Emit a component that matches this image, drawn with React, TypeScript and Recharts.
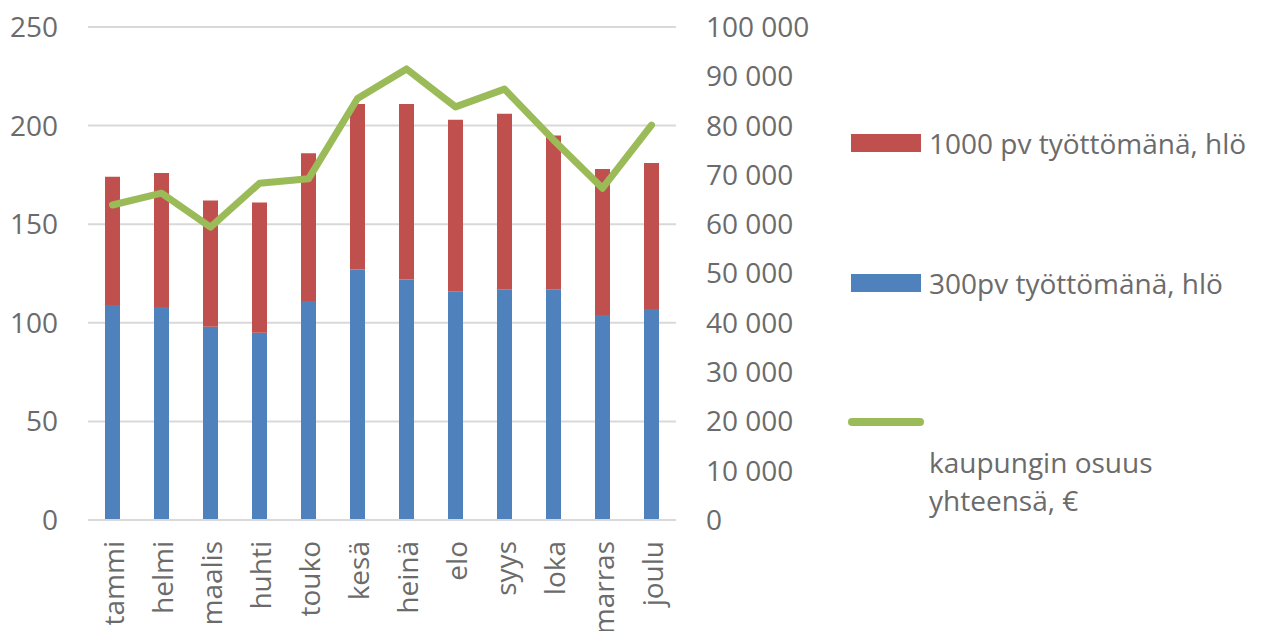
import React from 'react';
import { ComposedChart, Bar, Line, XAxis, YAxis, CartesianGrid, Legend } from 'recharts';

const months = ['tammi', 'helmi', 'maalis', 'huhti', 'touko', 'kesä', 'heinä', 'elo', 'syys', 'loka', 'marras', 'joulu'];
const unemployed300 = [109, 108, 98, 95, 111, 127, 122, 116, 117, 117, 104, 107];
const unemployed1000 = [65, 68, 64, 66, 75, 84, 89, 87, 89, 78, 74, 74];
const cityShare = [63900, 66300, 59400, 68300, 69200, 85500, 91500, 83800, 87400, 77100, 67300, 80100];

const leftTicks = [0, 50, 100, 150, 200, 250];
const rightTicks = [0, 10000, 20000, 30000, 40000, 50000, 60000, 70000, 80000, 90000, 100000];

const NAME_300 = '300pv työttömänä, hlö';
const NAME_1000 = '1000 pv työttömänä, hlö';
const NAME_CITY = 'kaupungin osuus yhteensä, €';

const data = months.map((m, i) => ({
  month: m,
  d300: unemployed300[i],
  d1000: unemployed1000[i],
  city: cityShare[i],
}));

const FONT = '"Open Sans", sans-serif';
const TEXT = '#6b6b6b';
const GRID = '#d9d9d9';

const fmt = (v: number) => {
  const s = String(Math.round(v));
  return s.replace(/\B(?=(\d{3})+(?!\d))/g, ' ');
};

const XTick = (props: any) => {
  const { x, payload } = props;
  const y = 541;
  return (
    <text
      x={x}
      y={y}
      dy={11}
      transform={`rotate(-90, ${x}, ${y})`}
      textAnchor="end"
      fill={TEXT}
      fontSize={28}
      fontFamily={FONT}
    >
      {payload.value}
    </text>
  );
};

const LegendContent = (props: any) => {
  const payload: any[] = props.payload || [];
  const find = (k: string) => payload.find((p) => p.dataKey === k) || { color: '#000', value: '' };
  const red = find('d1000');
  const blue = find('d300');
  const green = find('city');
  const textStyle: React.CSSProperties = {
    position: 'absolute',
    left: 929,
    fontFamily: FONT,
    fontSize: 28,
    color: TEXT,
    whiteSpace: 'nowrap',
    lineHeight: '38px',
  };
  return (
    <div style={{ position: 'relative', width: 0, height: 0 }}>
      <div style={{ position: 'absolute', left: 851, top: 134, width: 70, height: 18, background: red.color }} />
      <div style={{ ...textStyle, top: 124 }}>{red.value}</div>
      <div style={{ position: 'absolute', left: 851, top: 274, width: 70, height: 18, background: blue.color }} />
      <div style={{ ...textStyle, top: 264 }}>{blue.value}</div>
      <div style={{ position: 'absolute', left: 848, top: 418, width: 76, height: 8, borderRadius: 4, background: green.color }} />
      <div style={{ ...textStyle, top: 443, width: 260, whiteSpace: 'normal' }}>
        kaupungin osuus<br />yhteensä, €
      </div>
    </div>
  );
};

export default function App() {
  return (
    <div style={{ position: 'absolute', left: 0, top: 0, width: 1262, height: 631, background: '#fff' }}>
      <ComposedChart
        width={1262}
        height={631}
        data={data}
        margin={{ top: 27, right: 486, bottom: 0, left: 0 }}
        barCategoryGap="0%"
      >
        <CartesianGrid vertical={false} stroke={GRID} strokeWidth={2} yAxisId="left" />
        <XAxis
          dataKey="month"
          height={111}
          axisLine={{ stroke: GRID, strokeWidth: 2 }}
          tickLine={false}
          tick={<XTick />}
          interval={0}
        />
        <YAxis
          yAxisId="left"
          orientation="left"
          width={88}
          domain={[0, 250]}
          ticks={leftTicks}
          axisLine={false}
          tickLine={false}
          tickSize={0}
          tickMargin={30}
          tick={{ fill: TEXT, fontSize: 28, fontFamily: FONT }}
        />
        <YAxis
          yAxisId="right"
          orientation="right"
          width={100}
          domain={[0, 100000]}
          ticks={rightTicks}
          axisLine={false}
          tickLine={false}
          tickSize={0}
          tickMargin={30}
          tickFormatter={fmt}
          tick={{ fill: TEXT, fontSize: 28, fontFamily: FONT, textAnchor: 'start' }}
        />
        <Bar yAxisId="left" dataKey="d300" name={NAME_300} stackId="a" fill="#4f81bd" barSize={15} isAnimationActive={false} />
        <Bar yAxisId="left" dataKey="d1000" name={NAME_1000} stackId="a" fill="#c0504d" barSize={15} isAnimationActive={false} />
        <Line
          yAxisId="right"
          dataKey="city"
          name={NAME_CITY}
          type="linear"
          stroke="#9bbb59"
          strokeWidth={7}
          strokeLinejoin="round"
          strokeLinecap="round"
          dot={false}
          activeDot={false}
          isAnimationActive={false}
        />
        <Legend
          content={<LegendContent />}
          wrapperStyle={{ position: 'absolute', left: 0, top: 0, width: 0, height: 0 }}
        />
      </ComposedChart>
    </div>
  );
}
